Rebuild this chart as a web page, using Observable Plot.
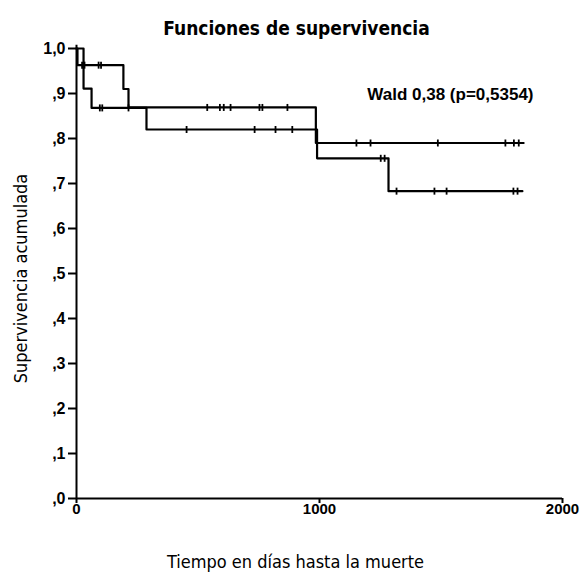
<!DOCTYPE html>
<html>
<head>
<meta charset="utf-8">
<script src="https://cdn.jsdelivr.net/npm/d3@7"></script>
<script src="https://cdn.jsdelivr.net/npm/@observablehq/plot@0.6"></script>
<style>
  html, body { margin: 0; padding: 0; background: #fff; }
  #chart svg { display: block; }
</style>
</head>
<body>
<div id="chart"></div>
<script>
// ---- Data ----
const titleText = "Funciones de supervivencia";
const xLabel = "Tiempo en días hasta la muerte";
const yLabel = "Supervivencia acumulada";
const statText = "Wald 0,38 (p=0,5354)";

const xTicks = [0, 1000, 2000];
const yTicks = [0, 0.1, 0.2, 0.3, 0.4, 0.5, 0.6, 0.7, 0.8, 0.9, 1.0];
const yTickLabels = [",0", ",1", ",2", ",3", ",4", ",5", ",6", ",7", ",8", ",9", "1,0"];

// Group A (upper curve at the end)
const timesA = [0, 4, 193, 214, 985, 1840];
const survA  = [1.0, 0.963, 0.91, 0.869, 0.79, 0.79];
const censorTimesA = [23, 33, 91, 101, 538, 590, 606, 634, 753, 765, 868, 1152, 1210, 1487, 1765, 1800, 1820];
const censorSurvA  = [0.963, 0.963, 0.963, 0.963, 0.869, 0.869, 0.869, 0.869, 0.869, 0.869, 0.869, 0.79, 0.79, 0.79, 0.79, 0.79, 0.79];

// Group B (lower curve at the end)
const timesB = [0, 29, 62, 288, 990, 1284, 1835];
const survB  = [1.0, 0.911, 0.868, 0.82, 0.756, 0.683, 0.683];
const censorTimesB = [96, 106, 214, 453, 733, 819, 888, 1252, 1268, 1317, 1473, 1523, 1798, 1815];
const censorSurvB  = [0.868, 0.868, 0.868, 0.82, 0.82, 0.82, 0.82, 0.756, 0.756, 0.683, 0.683, 0.683, 0.683, 0.683];

// ---- Build tables ----
const lineA = timesA.map((t, i) => ({t, s: survA[i]}));
const lineB = timesB.map((t, i) => ({t, s: survB[i]}));
const censors = [
  ...censorTimesA.map((t, i) => ({t, s: censorSurvA[i]})),
  ...censorTimesB.map((t, i) => ({t, s: censorSurvB[i]}))
];
const yLabelMap = new Map(yTicks.map((v, i) => [v, yTickLabels[i]]));

const vbar = {
  draw(context, size) {
    const h = Math.sqrt(size / Math.PI);
    context.moveTo(0, -h);
    context.lineTo(0, h);
  }
};

const narrow = "'Liberation Sans Narrow', 'Arial Narrow', 'DejaVu Sans Condensed', 'Roboto Condensed', sans-serif";
const arial = "'Liberation Sans', Arial, sans-serif";

const chart = Plot.plot({
  width: 580,
  height: 573,
  marginLeft: 76,
  marginRight: 18,
  marginTop: 48,
  marginBottom: 75,
  style: {background: "#fff", color: "#000", fontFamily: arial},
  x: {domain: [0, 2000]},
  y: {domain: [0, 1]},
  marks: [
    Plot.ruleX([0], {y1: 0, y2: 1.007, stroke: "#000", strokeWidth: 2}),
    Plot.ruleY([0], {x1: 0, x2: 2000, stroke: "#000", strokeWidth: 2}),
    Plot.axisY({ticks: yTicks, tickFormat: d => yLabelMap.get(Math.round(d * 10) / 10), tickSize: 8, tickPadding: 3,
      fontSize: 16, fontWeight: "bold", label: null, strokeWidth: 2}),
    Plot.axisX({ticks: xTicks, tickFormat: d3.format("d"), tickSize: 5, tickPadding: 0,
      fontSize: 15, fontWeight: "bold", label: null, strokeWidth: 2}),
    Plot.line(lineA, {x: "t", y: "s", curve: "step-after", stroke: "#000", strokeWidth: 2.2}),
    Plot.line(lineB, {x: "t", y: "s", curve: "step-after", stroke: "#000", strokeWidth: 2.2}),
    Plot.dot(censors, {x: "t", y: "s", symbol: vbar, r: 3.5, stroke: "#000", strokeWidth: 1.8}),
    Plot.text([titleText], {frameAnchor: "top", dx: -23, dy: -20, lineAnchor: "middle",
      fontSize: 19, fontWeight: "bold", fontFamily: narrow}),
    Plot.text([yLabel], {frameAnchor: "left", rotate: -90, dx: -55, dy: 5, lineAnchor: "middle", textAnchor: "middle",
      fontSize: 18, fontFamily: narrow}),
    Plot.text([xLabel], {frameAnchor: "bottom", dx: -24, dy: 64, lineAnchor: "middle", textAnchor: "middle",
      fontSize: 18, fontFamily: narrow}),
    Plot.text([statText], {frameAnchor: "top-right", dx: -29, dy: 46, lineAnchor: "middle", textAnchor: "end",
      fontSize: 17, fontWeight: "bold", fontFamily: arial})
  ]
});
document.getElementById("chart").appendChild(chart);
</script>
</body>
</html>
